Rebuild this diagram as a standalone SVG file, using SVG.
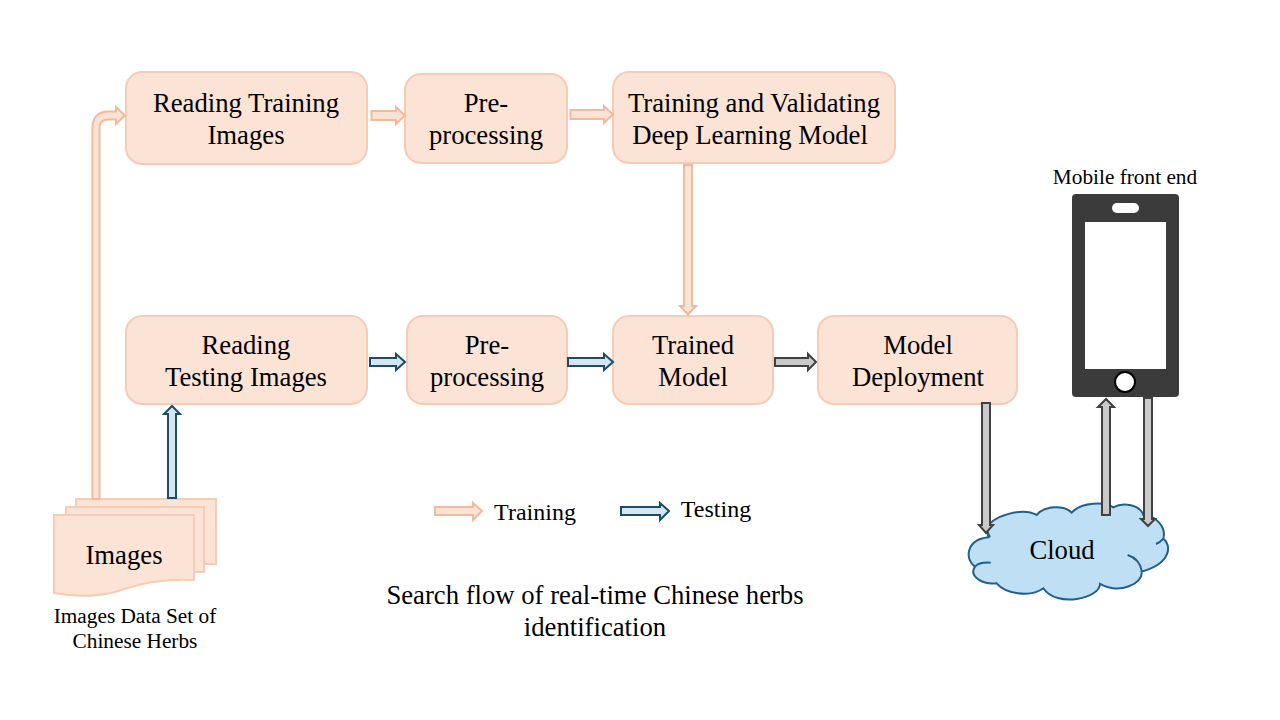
<svg xmlns="http://www.w3.org/2000/svg" width="1280" height="720" viewBox="0 0 1280 720">
<style>
text{font-family:"Liberation Serif","Times New Roman",serif;fill:#000;text-anchor:middle}
.t{font-size:26.7px}
.s{font-size:21.3px}
.m{font-size:24px}
.b{fill:#fbe3d6;stroke:#f6ccb4;stroke-width:2}
.o{fill:#fbe3d6;stroke:#f3b99a;stroke-width:2;stroke-linejoin:miter}
.u{fill:#d5e6f3;stroke:#1a4d68;stroke-width:2}
.g{fill:#c9c9c9;stroke:#404040;stroke-width:2}
</style>
<rect width="1280" height="720" fill="#fff"/>
<g id="node-reading-training"><rect class="b" x="126" y="72" width="241" height="92" rx="16"/><text class="t" x="246" y="112">Reading Training</text><text class="t" x="246" y="144">Images</text></g>
<g id="node-preprocessing-1"><rect class="b" x="405" y="74" width="162" height="89" rx="16"/><text class="t" x="486" y="112">Pre-</text><text class="t" x="486" y="144">processing</text></g>
<g id="node-training-validating"><rect class="b" x="613" y="72" width="282" height="91" rx="16"/><text class="t" x="754" y="112">Training and Validating</text><text class="t" x="750" y="144">Deep Learning Model</text></g>
<g id="node-reading-testing"><rect class="b" x="126" y="316" width="241" height="88" rx="16"/><text class="t" x="246" y="354">Reading</text><text class="t" x="246" y="386">Testing Images</text></g>
<g id="node-preprocessing-2"><rect class="b" x="407" y="316" width="160" height="88" rx="16"/><text class="t" x="487" y="354">Pre-</text><text class="t" x="487" y="386">processing</text></g>
<g id="node-trained-model"><rect class="b" x="613" y="316" width="160" height="88" rx="16"/><text class="t" x="693" y="354">Trained</text><text class="t" x="693" y="386">Model</text></g>
<g id="node-model-deployment"><rect class="b" x="818" y="316" width="199" height="88" rx="16"/><text class="t" x="918" y="354">Model</text><text class="t" x="918" y="386">Deployment</text></g>
<g id="node-images">
<path class="b" d="M76 499H216V564H76Z"/>
<path class="b" d="M66 507H204V572H66Z"/>
<path class="b" d="M54 515H194V580C160 578 140 584 115 592C95 597 75 597 54 593Z"/>
<text class="t" x="124" y="564">Images</text>
<text class="s" x="135" y="623">Images Data Set of</text>
<text class="s" x="135" y="648">Chinese Herbs</text>
</g>
<g id="node-cloud">
<path transform="translate(950 380) scale(.3333)" fill="#bfe0f4" stroke="#20608f" stroke-width="6" d="M110 445C125 410 215 380 260 405C285 375 345 375 365 398C395 365 465 365 490 382C520 365 570 375 580 405C615 405 650 440 640 476C665 495 665 550 575 575C580 610 510 645 450 612C450 655 320 685 280 625C240 655 165 640 140 610C100 615 55 590 75 560C45 540 45 480 115 472Z"/>
<path transform="translate(950 380) scale(.3333)" fill="none" stroke="#20608f" stroke-width="6" d="M75 560C85 548 100 547 122 548M533 525C555 532 572 550 576 575M640 476C635 482 628 488 618 492M110 445Q112 458 120 472"/>
<text class="t" x="1062" y="559">Cloud</text>
</g>
<g id="node-phone">
<rect x="1072" y="194" width="107" height="203" rx="4" fill="#3b3b3b"/>
<rect x="1085" y="222" width="81" height="147" fill="#fff"/>
<rect x="1112" y="203" width="27" height="10" rx="5" fill="#fff"/>
<circle cx="1125" cy="382" r="10" fill="#fff" stroke="#000" stroke-width="2"/>
<text class="s" x="1125" y="184">Mobile front end</text>
</g>
<g id="legend">
<path class="o" d="M435 507H473V503L482 511L473 520V515H435Z"/>
<text class="m" x="535" y="520">Training</text>
<path class="u" d="M621 507H660V503L669 511L660 520V515H621Z"/>
<text class="m" x="716" y="517">Testing</text>
</g>
<g id="caption">
<text class="t" x="595" y="604">Search flow of real-time Chinese herbs</text>
<text class="t" x="595" y="636">identification</text>
</g>
<g id="connectors">
<path class="o" d="M92.500 499V128Q92.500 111.500 109 111.500H116V107L125 115.500L116 124V119.500H108Q99.500 119.500 99.500 128V499Z"/>
<path class="u" d="M168 498V414H164L172 406L180 414H176V498Z"/>
<path class="o" d="M371.500 111H396V107L405 115.500L396 124V120H371.500Z"/>
<path class="o" d="M570.500 110H604V106L613 114.500L604 123V119H570.500Z"/>
<path class="o" d="M684 165H692V306H696L688 314.500L680 306H684Z"/>
<path class="u" d="M370 358H396V354L405 362L396 370V366H370Z"/>
<path class="u" d="M568 358H604V354L613 362L604 370V366H568Z"/>
<path class="g" d="M775 358H808V354L816 362L808 370V366H775Z"/>
<path class="g" d="M982 403H990V525H993L986 533L979 525H982Z"/>
<path class="g" d="M1102 515V407H1098L1106 399L1114 407H1110V515Z"/>
<path class="g" d="M1144 398H1152V519H1155L1148 526L1141 519H1144Z"/>
</g>
</svg>
